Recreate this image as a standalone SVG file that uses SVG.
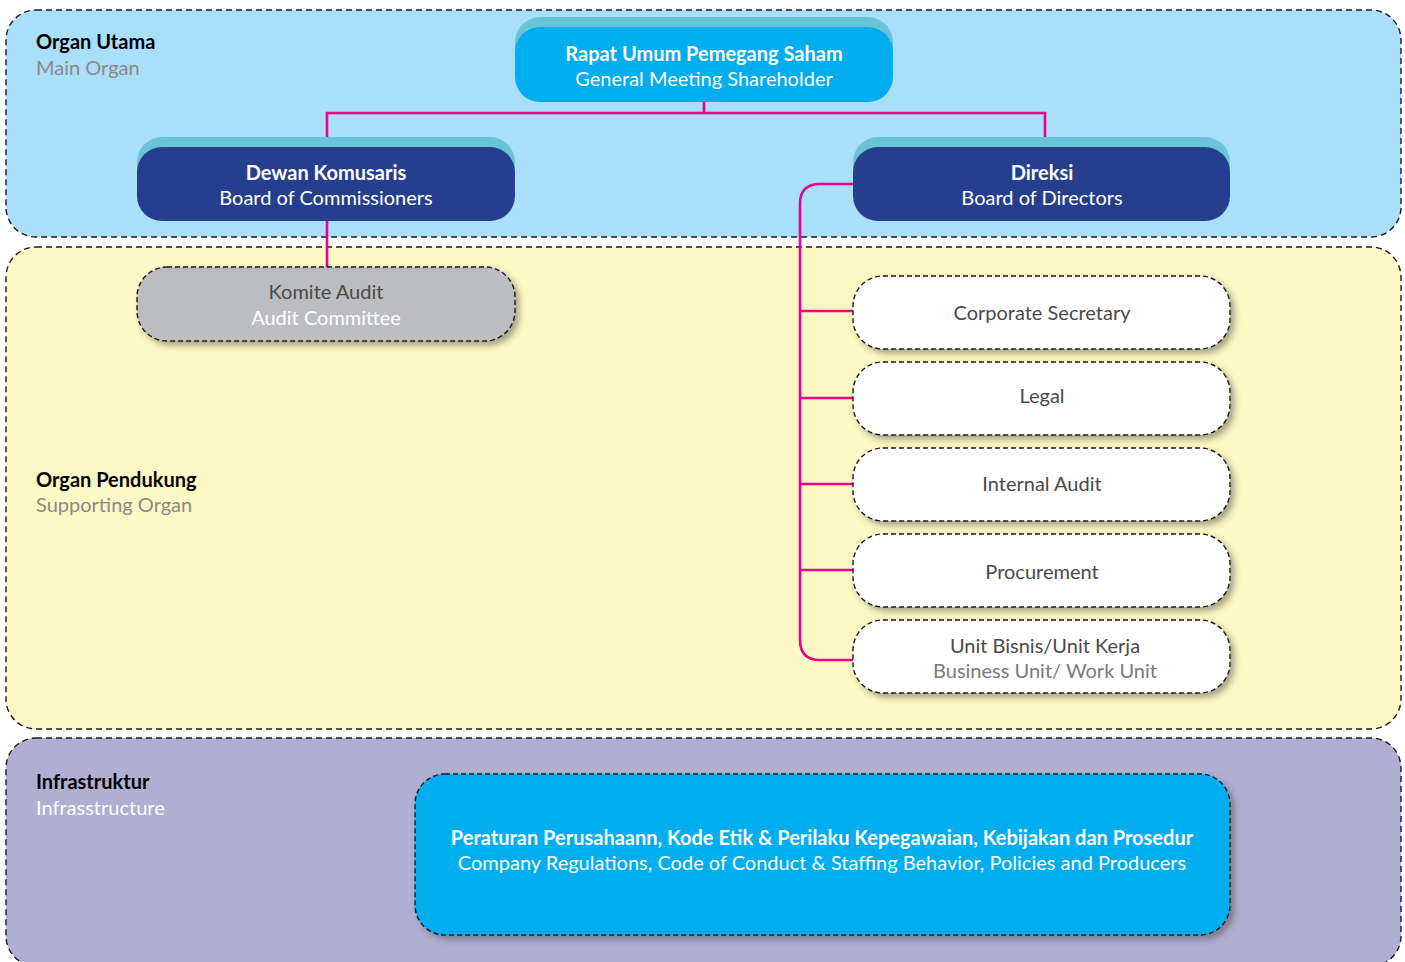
<svg xmlns="http://www.w3.org/2000/svg" width="1405" height="962" viewBox="0 0 1405 962">
  <style>
    text { font-family: Lato, "Open Sans", "Liberation Sans", sans-serif; font-size: 20px; text-anchor: middle; }
    .lbl { text-anchor: start; }
    .b { font-weight: bold; }
    .wt { fill: #ffffff; }
    .dk { fill: #000000; }
    .gr { fill: #8a8a8a; }
    .tx { fill: #4a4a4a; }
    .mg { fill: #7a7a7a; }
    .zone { stroke: #1a1a1a; stroke-width: 1.4; stroke-dasharray: 6 4; }
    .dash { stroke: #1a1a1a; stroke-width: 1.4; stroke-dasharray: 5 3; }
    .link { fill: none; stroke: #ec008c; stroke-width: 2.6; }
  </style>
  <defs>
    <filter id="shadow" x="-10%" y="-20%" width="125%" height="150%">
      <feDropShadow dx="4" dy="4" stdDeviation="3" flood-color="#3a3a3a" flood-opacity="0.45"/>
    </filter>
  </defs>

  <rect width="1405" height="962" fill="#ffffff"/>

  <!-- zones -->
  <g id="zone-main">
    <rect x="6" y="10" width="1395" height="227" rx="30" fill="#aadff9" class="zone"/>
    <text x="36" y="49" class="lbl b dk">Organ Utama</text>
    <text x="36" y="75" class="lbl gr">Main Organ</text>
  </g>
  <g id="zone-support">
    <rect x="6" y="247" width="1395" height="482" rx="30" fill="#fef8c4" class="zone"/>
    <text x="36" y="487" class="lbl b dk">Organ Pendukung</text>
    <text x="36" y="512" class="lbl gr">Supporting Organ</text>
  </g>
  <g id="zone-infra">
    <rect x="6" y="738" width="1395" height="228" rx="30" fill="#b0aed2" class="zone"/>
    <text x="36" y="789" class="lbl b dk">Infrastruktur</text>
    <text x="36" y="815" class="lbl wt">Infrasstructure</text>
  </g>

  <!-- connectors -->
  <g id="connectors">
    <path class="link" d="M704 102 V113 M327 147 V113 H1045 V147"/>
    <path class="link" d="M327 221 V267"/>
    <path class="link" d="M853 184 H820 Q800 184 800 204 V640 Q800 660 820 660 H853"/>
    <path class="link" d="M800 311 H853 M800 398 H853 M800 484 H853 M800 570 H853"/>
  </g>

  <!-- top level -->
  <g id="rups">
    <rect x="515" y="17" width="378" height="75" rx="25" fill="#6bc4d6"/>
    <rect x="515" y="27" width="378" height="75" rx="25" fill="#00adee"/>
    <text x="704" y="61" class="b wt">Rapat Umum Pemegang Saham</text>
    <text x="704" y="86" class="wt">General Meeting Shareholder</text>
  </g>

  <g id="commissioners">
    <rect x="137" y="137" width="378" height="74" rx="25" fill="#6bc4d6"/>
    <rect x="137" y="147" width="378" height="74" rx="25" fill="#253f8e"/>
    <text x="326" y="180" class="b wt">Dewan Komusaris</text>
    <text x="326" y="205" class="wt">Board of Commissioners</text>
  </g>

  <g id="directors">
    <rect x="853" y="137" width="377" height="74" rx="25" fill="#6bc4d6"/>
    <rect x="853" y="147" width="377" height="74" rx="25" fill="#253f8e"/>
    <text x="1042" y="180" class="b wt">Direksi</text>
    <text x="1042" y="205" class="wt">Board of Directors</text>
  </g>

  <!-- supporting units -->
  <g id="audit-committee">
    <rect x="137" y="267" width="378" height="74" rx="30" fill="#bcbdc0" class="dash" filter="url(#shadow)"/>
    <text x="326" y="299" class="tx">Komite Audit</text>
    <text x="326" y="325" class="wt">Audit Committee</text>
  </g>

  <g id="corporate-secretary">
    <rect x="853" y="276" width="377" height="73" rx="30" fill="#ffffff" class="dash" filter="url(#shadow)"/>
    <text x="1042" y="320" class="tx">Corporate Secretary</text>
  </g>

  <g id="legal">
    <rect x="853" y="362" width="377" height="73" rx="30" fill="#ffffff" class="dash" filter="url(#shadow)"/>
    <text x="1042" y="403" class="tx">Legal</text>
  </g>

  <g id="internal-audit">
    <rect x="853" y="448" width="377" height="73" rx="30" fill="#ffffff" class="dash" filter="url(#shadow)"/>
    <text x="1042" y="491" class="tx">Internal Audit</text>
  </g>

  <g id="procurement">
    <rect x="853" y="534" width="377" height="73" rx="30" fill="#ffffff" class="dash" filter="url(#shadow)"/>
    <text x="1042" y="579" class="tx">Procurement</text>
  </g>

  <g id="business-unit">
    <rect x="853" y="620" width="377" height="73" rx="30" fill="#ffffff" class="dash" filter="url(#shadow)"/>
    <text x="1045" y="653" class="tx">Unit Bisnis/Unit Kerja</text>
    <text x="1045" y="678" class="mg">Business Unit/ Work Unit</text>
  </g>

  <!-- infrastructure -->
  <g id="regulations">
    <rect x="415" y="774" width="815" height="161" rx="30" fill="#00aeef" class="dash" filter="url(#shadow)"/>
    <text x="822" y="845" class="b wt">Peraturan Perusahaann, Kode Etik &amp; Perilaku Kepegawaian, Kebijakan dan Prosedur</text>
    <text x="822" y="870" class="wt">Company Regulations, Code of Conduct &amp; Staffing Behavior, Policies and Producers</text>
  </g>
</svg>
